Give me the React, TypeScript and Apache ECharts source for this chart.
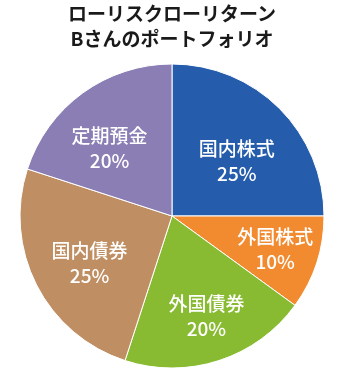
import React, { useEffect, useRef } from "react";
import * as echarts from "echarts";

const titleLines = ["ローリスクローリターン", "Bさんのポートフォリオ"];
const categories = ["国内株式", "外国株式", "外国債券", "国内債券", "定期預金"];
const values = [25, 10, 20, 25, 20];
const colors = ["#255CAB", "#F28A30", "#88BB31", "#BF8F63", "#8B7EB4"];
const labelOffsets: [number, number][] = [[9, 0], [28, 8], [10, 24], [-12, 10], [-16, -5]];

export default function App() {
  const ref = useRef<HTMLDivElement>(null);
  useEffect(() => {
    if (!ref.current) return;
    const chart = echarts.init(ref.current, null, { renderer: "svg" });
    const font = "'Noto Sans CJK JP', 'Noto Sans', sans-serif";
    chart.setOption({
      animation: false,
      title: {
        text: titleLines.join("\n"),
        left: 172,
        top: 0,
        textAlign: "center",
        padding: 0,
        textStyle: {
          fontFamily: font,
          fontSize: 19,
          fontWeight: "bold",
          color: "#1a1a1a",
          lineHeight: 25,
        },
      },
      series: [
        {
          type: "pie",
          center: [172, 216],
          radius: [0, 152],
          startAngle: 90,
          clockwise: true,
          itemStyle: { borderColor: "#ffffff", borderWidth: 1 },
          label: {
            show: true,
            position: "inside",
            formatter: (p: any) => `${p.name}\n${p.value}%`,
            color: "#ffffff",
            fontFamily: font,
            fontSize: 19,
            fontWeight: 500,
            lineHeight: 25,
          },
          labelLine: { show: false },
          data: categories.map((name, i) => ({
            name,
            value: values[i],
            itemStyle: { color: colors[i] },
            label: { offset: labelOffsets[i] },
          })),
        },
      ],
    });
    return () => chart.dispose();
  }, []);
  return (
    <div
      ref={ref}
      style={{ position: "fixed", left: 0, top: 0, width: 357, height: 374 }}
    />
  );
}
